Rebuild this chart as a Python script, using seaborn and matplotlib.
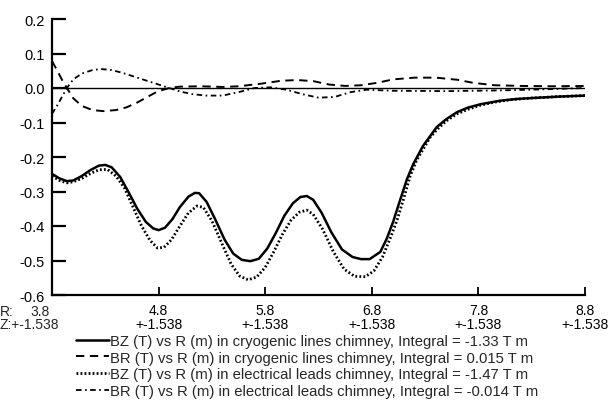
import numpy as np
import pandas as pd
import matplotlib
matplotlib.use("Agg")
import matplotlib.pyplot as plt
import seaborn as sns

# BZ (T) in cryogenic lines chimney
r_bz_cryo = [3.80, 3.87, 3.94, 4.00, 4.08, 4.16, 4.24, 4.30, 4.36, 4.44, 4.52, 4.60, 4.68, 4.75,
             4.80, 4.86, 4.93, 5.00, 5.08, 5.14, 5.18, 5.25, 5.33, 5.42, 5.50, 5.58, 5.66, 5.74,
             5.82, 5.90, 5.98, 6.06, 6.13, 6.19, 6.25, 6.33, 6.42, 6.52, 6.62, 6.70, 6.78, 6.88,
             6.94, 7.00, 7.06, 7.13, 7.19, 7.28, 7.41, 7.50, 7.60, 7.70, 7.82, 8.00, 8.15, 8.31,
             8.55, 8.80]
bz_cryo = [-0.249, -0.262, -0.270, -0.268, -0.255, -0.238, -0.225, -0.223, -0.230, -0.258,
           -0.303, -0.350, -0.388, -0.407, -0.412, -0.405, -0.380, -0.345, -0.315, -0.304,
           -0.305, -0.330, -0.380, -0.440, -0.480, -0.498, -0.502, -0.495, -0.465, -0.420,
           -0.370, -0.334, -0.316, -0.313, -0.324, -0.362, -0.418, -0.468, -0.490, -0.496,
           -0.496, -0.475, -0.437, -0.388, -0.330, -0.264, -0.220, -0.168, -0.113, -0.090,
           -0.070, -0.057, -0.047, -0.037, -0.032, -0.029, -0.025, -0.022]

# BR (T) in cryogenic lines chimney
r_br_cryo = [3.80, 3.85, 3.90, 3.94, 4.00, 4.08, 4.18, 4.28, 4.40, 4.50, 4.60, 4.70, 4.79, 4.90,
             5.00, 5.20, 5.40, 5.55, 5.75, 5.95, 6.10, 6.25, 6.40, 6.55, 6.70, 6.85, 7.00, 7.20,
             7.40, 7.60, 7.75, 7.95, 8.20, 8.50, 8.80]
br_cryo = [0.078, 0.050, 0.020, 0.000, -0.030, -0.052, -0.064, -0.067, -0.064, -0.056, -0.042,
           -0.025, -0.010, 0.000, 0.004, 0.005, 0.003, 0.005, 0.012, 0.021, 0.023, 0.020, 0.010,
           0.006, 0.008, 0.015, 0.025, 0.030, 0.030, 0.024, 0.015, 0.008, 0.006, 0.005, 0.006]

# BZ (T) in electrical leads chimney
r_bz_elec = [3.80, 3.87, 3.94, 4.00, 4.08, 4.16, 4.24, 4.32, 4.40, 4.48, 4.56, 4.64, 4.72, 4.79,
             4.85, 4.92, 5.00, 5.08, 5.16, 5.22, 5.30, 5.40, 5.48, 5.56, 5.64, 5.72, 5.80, 5.88,
             5.96, 6.04, 6.12, 6.19, 6.25, 6.34, 6.44, 6.54, 6.64, 6.74, 6.82, 6.90, 6.98, 7.04,
             7.10, 7.16, 7.22, 7.28, 7.35, 7.42, 7.50, 7.60, 7.70, 7.82, 7.95, 8.10, 8.30, 8.55,
             8.80]
bz_elec = [-0.255, -0.268, -0.275, -0.272, -0.262, -0.248, -0.237, -0.236, -0.255, -0.290,
           -0.345, -0.400, -0.442, -0.464, -0.462, -0.440, -0.400, -0.362, -0.342, -0.346,
           -0.385, -0.455, -0.510, -0.545, -0.556, -0.548, -0.520, -0.475, -0.425, -0.384,
           -0.360, -0.354, -0.366, -0.410, -0.475, -0.525, -0.546, -0.547, -0.530, -0.490,
           -0.430, -0.380, -0.320, -0.255, -0.210, -0.178, -0.142, -0.118, -0.095, -0.075,
           -0.062, -0.050, -0.041, -0.034, -0.029, -0.025, -0.022]

# BR (T) in electrical leads chimney
r_br_elec = [3.80, 3.85, 3.90, 3.94, 4.00, 4.08, 4.18, 4.26, 4.36, 4.46, 4.58, 4.70, 4.80, 4.90,
             5.00, 5.12, 5.25, 5.40, 5.55, 5.70, 5.85, 6.00, 6.15, 6.30, 6.45, 6.60, 6.75, 7.00,
             7.50, 8.00, 8.40, 8.80]
br_elec = [-0.075, -0.050, -0.022, 0.000, 0.025, 0.042, 0.052, 0.055, 0.052, 0.044, 0.032,
           0.020, 0.010, 0.000, -0.010, -0.018, -0.022, -0.022, -0.012, 0.000, 0.002, -0.005,
           -0.018, -0.028, -0.026, -0.012, -0.005, -0.008, -0.009, -0.007, -0.004, 0.000]

r_ticks = [3.8, 4.8, 5.8, 6.8, 7.8, 8.8]
r_tick_text = ["3.8", "4.8", "5.8", "6.8", "7.8", "8.8"]
z_text = "+-1.538"
y_ticks = [0.2, 0.1, 0.0, -0.1, -0.2, -0.3, -0.4, -0.5, -0.6]

labels = [
    "BZ (T) vs R (m) in cryogenic lines chimney, Integral = -1.33 T m",
    "BR (T) vs R (m) in cryogenic lines chimney, Integral = 0.015 T m",
    "BZ (T) vs R (m) in electrical leads chimney, Integral = -1.47 T m",
    "BR (T) vs R (m) in electrical leads chimney, Integral = -0.014 T m",
]

sns.set_style("ticks")
plt.rcParams["font.family"] = ["Liberation Sans", "DejaVu Sans"]
plt.rcParams["lines.scale_dashes"] = False

fig, ax = plt.subplots(figsize=(6.08, 4.06), dpi=100)
fig.subplots_adjust(left=52 / 608, right=585 / 608, top=1 - 20 / 406, bottom=1 - 296 / 406)

ax.axhline(0, color="black", lw=1.0, zorder=1)

sns.lineplot(x=r_bz_cryo, y=bz_cryo, ax=ax, color="black", lw=1.8, linestyle="-",
             label=labels[0], sort=False, estimator=None)
sns.lineplot(x=r_br_cryo, y=br_cryo, ax=ax, color="black", lw=1.4, linestyle=(0, (6, 4)),
             label=labels[1], sort=False, estimator=None)
sns.lineplot(x=r_bz_elec, y=bz_elec, ax=ax, color="black", lw=2.0, linestyle=(0, (1.3, 1.6)),
             label=labels[2], sort=False, estimator=None)
sns.lineplot(x=r_br_elec, y=br_elec, ax=ax, color="black", lw=1.3, linestyle=(0, (4, 2.5, 1.2, 2.5)),
             label=labels[3], sort=False, estimator=None)

ax.set_xlim(3.8, 8.8)
ax.set_ylim(-0.6, 0.2)
ax.set_yticks(y_ticks)
ax.set_yticklabels([f"{v:.1f}" for v in y_ticks])
xlabels = [""] + [f"{t}\n{z_text}" for t in r_tick_text[1:]]
ax.set_xticks(r_ticks)
ax.set_xticklabels(xlabels)
for lbl in ax.get_xticklabels():
    lbl.set_linespacing(1.0)

ax.tick_params(axis="y", direction="in", length=10, width=1.6, labelsize=10.5, pad=5, colors="black")
ax.tick_params(axis="x", direction="in", length=6, width=1.3, labelsize=10, pad=6, colors="black")
sns.despine(ax=ax)
for side in ["left", "bottom"]:
    ax.spines[side].set_linewidth(1.6)
    ax.spines[side].set_color("black")
ax.set_xlabel("")
ax.set_ylabel("")

# first tick label carries the R: / Z: row headers
fig.text(0.0, 1 - 305 / 406, "R:", ha="left", va="top", fontsize=10)
fig.text(50 / 608, 1 - 305 / 406, r_tick_text[0], ha="right", va="top", fontsize=10)
fig.text(0.0, 1 - 318 / 406, f"Z:{z_text}", ha="left", va="top", fontsize=10)

ax.legend(loc="upper left", bbox_to_anchor=(76 / 608, 1 - 335 / 406), bbox_transform=fig.transFigure,
          frameon=False, fontsize=10.7, handlelength=2.2, handletextpad=0.12, labelspacing=0.18,
          borderpad=0, borderaxespad=0)

fig.savefig("out.png", dpi=100)
